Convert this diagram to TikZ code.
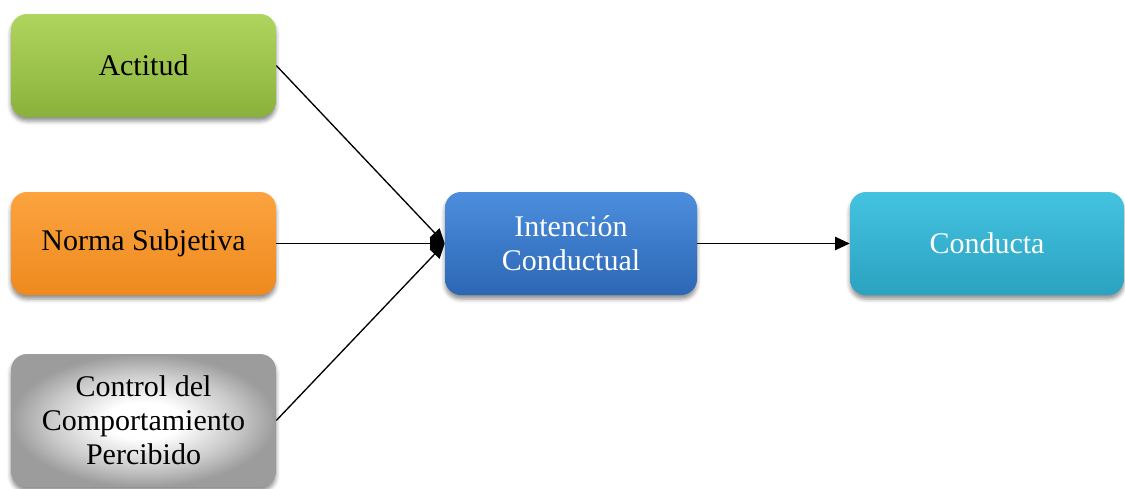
\documentclass[tikz,border=0pt]{standalone}
\usepackage{fontspec}
\setmainfont{Liberation Serif}
\usetikzlibrary{arrows.meta,shadows.blur}

\definecolor{grnTop}{HTML}{B0D55E}
\definecolor{grnBot}{HTML}{8AB23A}
\definecolor{orgTop}{HTML}{FCA33F}
\definecolor{orgBot}{HTML}{EE8A1E}
\definecolor{bluTop}{HTML}{4C8EDD}
\definecolor{bluBot}{HTML}{2C67B5}
\definecolor{cyaTop}{HTML}{44C3E0}
\definecolor{cyaBot}{HTML}{2AA2C0}
\definecolor{gryOut}{HTML}{9C9C9C}

% soft silver glow: white core fading to grey at the rim
\pgfdeclareradialshading{silverglow}{\pgfpoint{0bp}{0bp}}{%
  color(0bp)=(white); color(7bp)=(white); color(18bp)=(gryOut!55!white);
  color(25bp)=(gryOut); color(50bp)=(gryOut)}

\tikzset{
  box/.style={rounded corners=12pt, minimum width=198.75pt, minimum height=77.25pt,
    align=center, font=\fontsize{22.5}{25.5}\selectfont, inner sep=2pt,
    blur shadow={shadow xshift=0pt, shadow yshift=-3pt, shadow blur radius=3pt, shadow opacity=45}},
  greenbox/.style={box, top color=grnTop, bottom color=grnBot, text=black},
  orangebox/.style={box, top color=orgTop, bottom color=orgBot, text=black},
  graybox/.style={box, shading=silverglow, text=black, minimum height=99.75pt},
  bluebox/.style={box, top color=bluTop, bottom color=bluBot, text=white, minimum width=189pt},
  cyanbox/.style={box, top color=cyaTop, bottom color=cyaBot, text=white, minimum width=205.5pt},
  link/.style={draw=black, line width=1pt, -{Triangle[length=11pt,width=10pt]}}
}

\begin{document}
\begin{tikzpicture}[x=0.75pt, y=-0.75pt]
  \useasboundingbox (0,0) rectangle (1125,489);

  % left column: the three determinants
  \node[greenbox]  (act)  at (143.5, 65.5)  {Actitud};
  \node[orangebox] (norm) at (143.5, 243.5) {Norma Subjetiva};
  \node[graybox]   (ctrl) at (143.5, 420.5) {Control del\\Comportamiento\\Percibido};

  % intention and behaviour
  \node[bluebox] (int)  at (571, 243.5) {Intención\\Conductual};
  \node[cyanbox] (cond) at (987, 243.5) {Conducta};

  % connectors
  \draw[link] (act.east)  -- (int.west);
  \draw[link] (norm.east) -- (int.west);
  \draw[link] (ctrl.east) -- (int.west);
  \draw[link] (int.east)  -- (cond.west);
\end{tikzpicture}
\end{document}
